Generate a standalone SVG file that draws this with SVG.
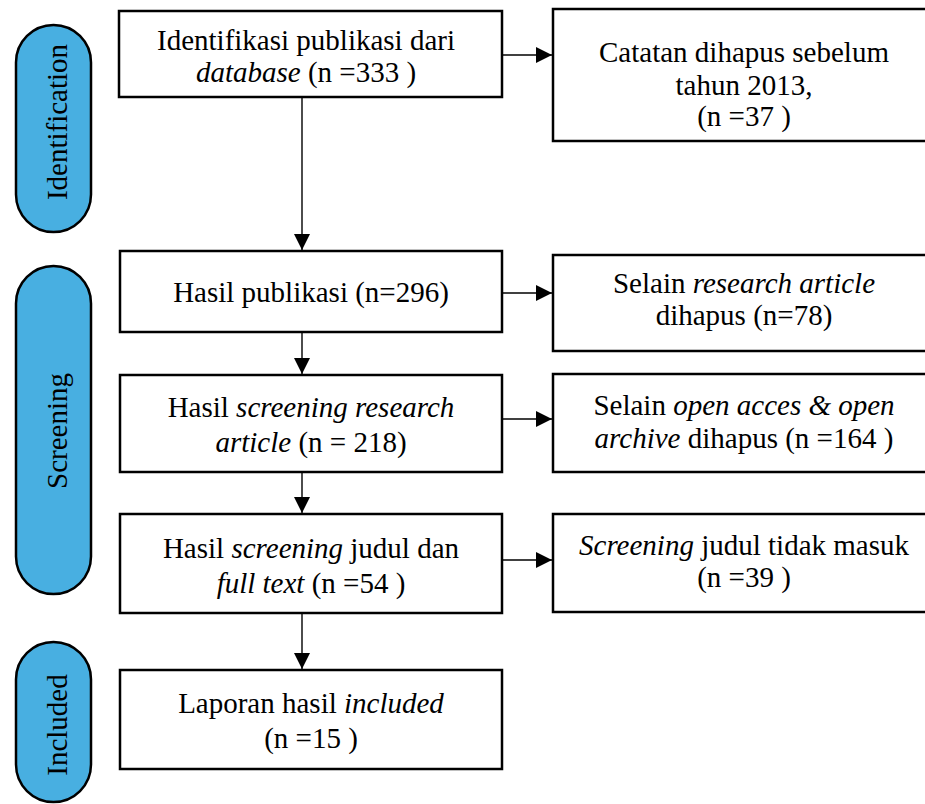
<svg xmlns="http://www.w3.org/2000/svg" width="925" height="804" viewBox="0 0 925 804">
<style>
  .pill { fill: #48AFE1; stroke: #000; stroke-width: 2.5; }
  .box { fill: #fff; stroke: #000; stroke-width: 2.5; }
  .t { font-family: 'Liberation Serif', 'Times New Roman', Times, serif; font-size: 29px; fill: #000; text-anchor: middle; }
  .i { font-style: italic; }
  .conn line { stroke: #000; stroke-width: 1.4; }
</style>
<defs>
  <marker id="ah" viewBox="0 0 16 16" refX="16" refY="8" markerWidth="16" markerHeight="16" markerUnits="userSpaceOnUse" orient="auto">
    <path d="M0,0 L16,8 L0,16 Z" fill="#000"/>
  </marker>
</defs>
<rect width="925" height="804" fill="#fff"/>

<g id="stage-identification">
  <rect class="pill" x="16" y="25" width="75" height="207" rx="37.5" ry="37.5"/>
  <text class="t" transform="translate(67,122) rotate(-90)">Identification</text>
</g>
<g id="stage-screening">
  <rect class="pill" x="16" y="266" width="75" height="328" rx="37.5" ry="37.5"/>
  <text class="t" transform="translate(67,431) rotate(-90)">Screening</text>
</g>
<g id="stage-included">
  <rect class="pill" x="16" y="642" width="75" height="160" rx="37.5" ry="37.5"/>
  <text class="t" transform="translate(67,725) rotate(-90)">Included</text>
</g>

<g id="box-identifikasi">
  <rect class="box" x="119" y="11" width="383" height="86"/>
  <text class="t" x="306" y="49.5">Identifikasi publikasi dari</text>
  <text class="t" x="306" y="81.5"><tspan class="i">database</tspan> (n =333 )</text>
</g>
<g id="box-catatan">
  <rect class="box" x="553" y="9" width="385" height="132"/>
  <text class="t" x="744" y="62">Catatan dihapus sebelum</text>
  <text class="t" x="744" y="94.5">tahun 2013,</text>
  <text class="t" x="744" y="126">(n =37 )</text>
</g>
<g id="box-hasil-publikasi">
  <rect class="box" x="120" y="251" width="382" height="81"/>
  <text class="t" x="311" y="301.5">Hasil publikasi (n=296)</text>
</g>
<g id="box-selain-research">
  <rect class="box" x="553" y="255" width="385" height="96"/>
  <text class="t" x="744" y="293">Selain <tspan class="i">research article</tspan></text>
  <text class="t" x="744" y="325">dihapus (n=78)</text>
</g>
<g id="box-hasil-screening-ra">
  <rect class="box" x="120" y="375" width="382" height="97"/>
  <text class="t" x="311" y="417">Hasil <tspan class="i">screening research</tspan></text>
  <text class="t" x="311" y="451.5"><tspan class="i">article</tspan> (n = 218)</text>
</g>
<g id="box-selain-open">
  <rect class="box" x="553" y="374" width="385" height="98"/>
  <text class="t" x="744" y="415">Selain <tspan class="i">open acces &amp; open</tspan></text>
  <text class="t" x="744" y="448"><tspan class="i">archive</tspan> dihapus (n =164 )</text>
</g>
<g id="box-hasil-screening-judul">
  <rect class="box" x="120" y="514" width="382" height="99"/>
  <text class="t" x="311" y="557.5">Hasil <tspan class="i">screening</tspan> judul dan</text>
  <text class="t" x="311" y="593"><tspan class="i">full text</tspan> (n =54 )</text>
</g>
<g id="box-screening-tidak">
  <rect class="box" x="553" y="514" width="385" height="98"/>
  <text class="t" x="744" y="555"><tspan class="i">Screening</tspan> judul tidak masuk</text>
  <text class="t" x="744" y="587">(n =39 )</text>
</g>
<g id="box-laporan">
  <rect class="box" x="120" y="670" width="382" height="99"/>
  <text class="t" x="311" y="713">Laporan hasil <tspan class="i">included</tspan></text>
  <text class="t" x="311" y="748">(n =15 )</text>
</g>

<g id="connectors" class="conn">
  <line x1="302" y1="98" x2="302" y2="250" marker-end="url(#ah)"/>
  <line x1="302" y1="333" x2="302" y2="374" marker-end="url(#ah)"/>
  <line x1="302" y1="473" x2="302" y2="513" marker-end="url(#ah)"/>
  <line x1="302" y1="614" x2="302" y2="669" marker-end="url(#ah)"/>
  <line x1="503" y1="55" x2="552" y2="55" marker-end="url(#ah)"/>
  <line x1="503" y1="293" x2="552" y2="293" marker-end="url(#ah)"/>
  <line x1="503" y1="419" x2="552" y2="419" marker-end="url(#ah)"/>
  <line x1="503" y1="560" x2="552" y2="560" marker-end="url(#ah)"/>
</g>
</svg>
